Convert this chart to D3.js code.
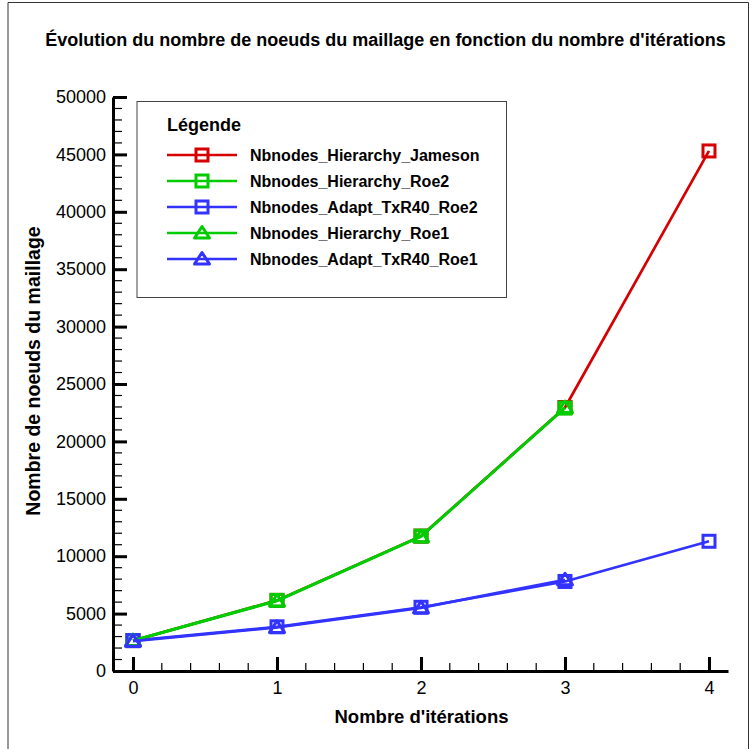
<!DOCTYPE html>
<html>
<head>
<meta charset="utf-8">
<script src="https://cdn.jsdelivr.net/npm/d3@7"></script>
<style>
  html, body { margin: 0; padding: 0; background: #fff; }
  svg { display: block; font-family: "Liberation Sans", Arial, Helvetica, sans-serif; }
</style>
</head>
<body>
<svg id="chart" width="755" height="749"></svg>
<script>
const iterations = [0, 1, 2, 3, 4];
const hierarchyJameson = [2650, 6150, 11750, 22950, 45300];
const hierarchyRoe2 = [2650, 6150, 11750, 22900];
const adaptRoe2 = [2650, 3850, 5550, 7800, 11300];
const hierarchyRoe1 = [2650, 6100, 11700, 22950];
const adaptRoe1 = [2600, 3800, 5500, 7950];
const seriesNames = ["Nbnodes_Hierarchy_Jameson", "Nbnodes_Hierarchy_Roe2", "Nbnodes_Adapt_TxR40_Roe2", "Nbnodes_Hierarchy_Roe1", "Nbnodes_Adapt_TxR40_Roe1"];
const seriesValues = [hierarchyJameson, hierarchyRoe2, adaptRoe2, hierarchyRoe1, adaptRoe1];
const seriesColors = ["#d70000", "#00cc00", "#3333ff", "#00cc00", "#3333ff"];
const seriesMarkers = ["square", "square", "square", "triangle", "triangle"];
const yTicks = [0, 5000, 10000, 15000, 20000, 25000, 30000, 35000, 40000, 45000, 50000];
const xTicks = [0, 1, 2, 3, 4];
const titleText = "Évolution du nombre de noeuds du maillage en fonction du nombre d'itérations";
const xTitle = "Nombre d'itérations";
const yTitle = "Nombre de noeuds du maillage";
const legendTitle = "Légende";

const svg = d3.select("#chart");

// outer frame
svg.append("path").attr("d", "M8,749 L8,2.5 L748.5,2.5 L748.5,749")
  .attr("fill", "none").attr("stroke", "#333").attr("stroke-width", 1);

const x = d3.scaleLinear().domain([-0.139, 4.132]).range([113, 728]);
const y = d3.scaleLinear().domain([0, 50000]).range([671, 97]);

svg.append("text").attr("x", 385.5).attr("y", 46).attr("text-anchor", "middle")
  .attr("font-size", 18).attr("font-weight", "bold").text(titleText);

// minor ticks
const g = svg.append("g");
const yMinor = d3.range(0, 50001, 1000).filter(v => v % 5000 !== 0);
g.selectAll(".ym").data(yMinor).enter().append("line")
  .attr("x1", 113).attr("x2", 122).attr("y1", d => y(d)).attr("y2", d => y(d))
  .attr("stroke", "#000").attr("stroke-width", 1.2);
const xMinor = d3.range(-0.0, 4.01, 0.2).filter(v => Math.abs(v - Math.round(v)) > 0.01);
g.selectAll(".xm").data(xMinor).enter().append("line")
  .attr("x1", d => x(d)).attr("x2", d => x(d)).attr("y1", 671).attr("y2", 663)
  .attr("stroke", "#000").attr("stroke-width", 1.2);

// axes
const yAxis = d3.axisLeft(y).tickValues(yTicks).tickSizeInner(-14).tickSizeOuter(0).tickPadding(7).tickFormat(d3.format("d"));
const ya = svg.append("g").attr("transform", "translate(113,0)").call(yAxis);
const xAxis = d3.axisBottom(x).tickValues(xTicks).tickSizeInner(-14).tickSizeOuter(0).tickPadding(17).tickFormat(d3.format("d"));
const xa = svg.append("g").attr("transform", "translate(0,671)").call(xAxis);
[ya, xa].forEach(a => {
  a.select(".domain").attr("stroke", "#000").attr("stroke-width", 3);
  a.selectAll(".tick line").attr("stroke", "#000").attr("stroke-width", 3);
  a.selectAll(".tick text").attr("font-size", 18).attr("fill", "#000")
    .attr("font-family", "'Liberation Sans', Arial, sans-serif");
});
xa.selectAll(".tick text").attr("dy", "0.35em");

svg.append("text").attr("x", 421.5).attr("y", 723).attr("text-anchor", "middle")
  .attr("font-size", 18.5).attr("font-weight", "bold").text(xTitle);
svg.append("text").attr("transform", "translate(40,371) rotate(-90)").attr("text-anchor", "middle")
  .attr("font-size", 19.5).attr("font-weight", "bold").text(yTitle);

// series
const line = d3.line().x((d, i) => x(iterations[i])).y(d => y(d));
function marker(sel, type, cx, cy, color) {
  if (type === "square") {
    sel.append("rect").attr("x", cx - 6).attr("y", cy - 6).attr("width", 12).attr("height", 12)
      .attr("fill", "none").attr("stroke", color).attr("stroke-width", 3);
  } else {
    sel.append("path").attr("d", `M${cx},${cy - 6.5} L${cx + 7.5},${cy + 5} L${cx - 7.5},${cy + 5} Z`)
      .attr("fill", "none").attr("stroke", color).attr("stroke-width", 3).attr("stroke-linejoin", "round");
  }
}
seriesValues.forEach((vals, s) => {
  const sg = svg.append("g");
  sg.append("path").datum(vals).attr("d", line).attr("fill", "none")
    .attr("stroke", seriesColors[s]).attr("stroke-width", 2.7);
  vals.forEach((v, i) => marker(sg, seriesMarkers[s], x(iterations[i]), y(v), seriesColors[s]));
});

// legend
const lg = svg.append("g");
lg.append("rect").attr("x", 137).attr("y", 101.5).attr("width", 369.5).attr("height", 196)
  .attr("fill", "#fff").attr("stroke", "#444").attr("stroke-width", 1);
lg.append("text").attr("x", 167).attr("y", 131).attr("font-size", 18).attr("font-weight", "bold").text(legendTitle);
seriesNames.forEach((name, s) => {
  const ly = 155 + s * 26;
  lg.append("line").attr("x1", 167).attr("x2", 237).attr("y1", ly).attr("y2", ly)
    .attr("stroke", seriesColors[s]).attr("stroke-width", 2.7);
  marker(lg, seriesMarkers[s], 202, ly, seriesColors[s]);
  lg.append("text").attr("x", 250).attr("y", ly + 5.5).attr("font-size", 16).attr("font-weight", "bold").text(name);
});
</script>
</body>
</html>
